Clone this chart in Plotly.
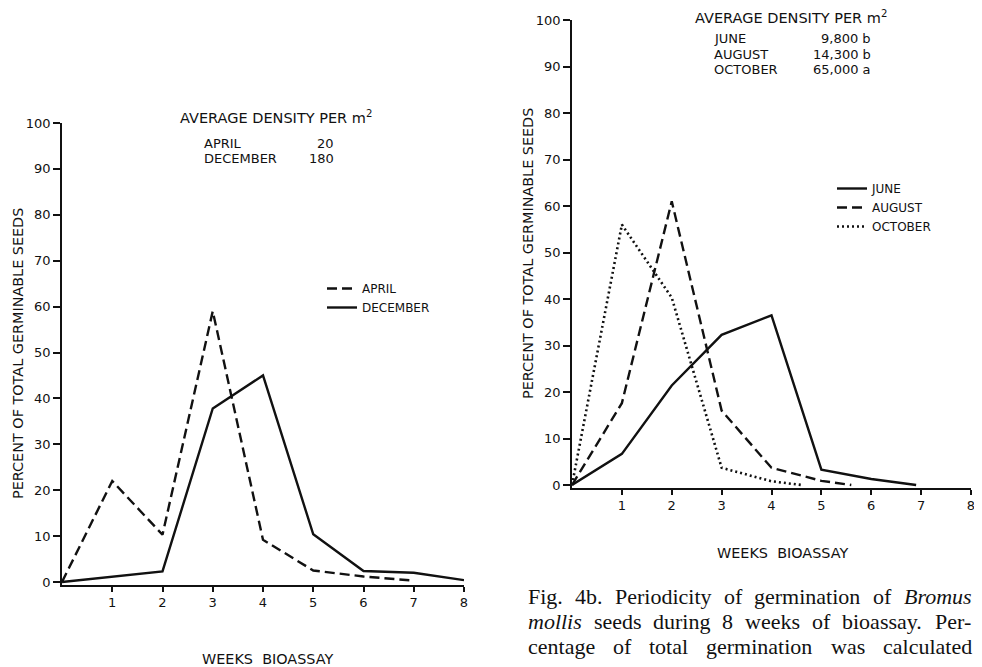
import plotly.graph_objects as go

# ---------------- data ----------------
weeks_april = [0, 1, 2, 3, 4, 5, 6, 7]
april = [0, 22, 10.3, 59, 9.2, 2.5, 1.2, 0.3]
weeks_december = [0, 1, 2, 3, 4, 5, 6, 7, 8]
december = [0, 1.2, 2.3, 37.8, 45, 10.4, 2.4, 2.0, 0.4]

weeks_june = [0, 1, 2, 3, 4, 5, 6, 6.9]
june = [0, 6.7, 21.4, 32.3, 36.5, 3.3, 1.3, 0]
weeks_august = [0, 1, 2, 3, 4, 5, 5.6]
august = [0, 17.6, 61, 16, 3.7, 0.9, 0]
weeks_october = [0, 1, 2, 3, 4, 4.6]
october = [0, 56, 40.3, 3.7, 0.8, 0]

x_ticks = [1, 2, 3, 4, 5, 6, 7, 8]
y_ticks = [0, 10, 20, 30, 40, 50, 60, 70, 80, 90, 100]
y_tick_text = ["0", "10", "20", "30", "40", "50", "60", "70", "80", "90", "100"]

left_density_names = ["APRIL", "DECEMBER"]
left_density_values = ["20", "180"]
right_density_names = ["JUNE", "AUGUST", "OCTOBER"]
right_density_values = ["9,800 b", "14,300 b", "65,000 a"]

caption_lines = [
    ["Fig.", "4b.", "Periodicity", "of", "germination", "of", "<i>Bromus</i>"],
    ["<i>mollis</i>", "seeds", "during", "8", "weeks", "of", "bioassay.", "Per-"],
    ["centage", "of", "total", "germination", "was", "calculated"],
]

# ---------------- layout helpers ----------------
# the page body adds an 8px margin, so the figure is drawn from (8, 8)
OFF = 8
W, H = 982 - OFF, 667 - OFF
def fx(p):
    return (p - OFF) / W
def fy(p):
    return 1 - (p - OFF) / H

FONT = "DejaVu Sans"
BLACK = "#111111"
YMIN = -0.6

fig = go.Figure()

line_solid = dict(color=BLACK, width=2.4)
line_dash = dict(color=BLACK, width=2.4, dash="10px,5px")
line_dot = dict(color=BLACK, width=2.6, dash="2px,3px")

fig.add_trace(go.Scatter(x=weeks_april, y=april, mode="lines", name="APRIL",
                         line=line_dash, xaxis="x", yaxis="y", legend="legend"))
fig.add_trace(go.Scatter(x=weeks_december, y=december, mode="lines", name="DECEMBER",
                         line=line_solid, xaxis="x", yaxis="y", legend="legend"))
fig.add_trace(go.Scatter(x=weeks_june, y=june, mode="lines", name="JUNE",
                         line=line_solid, xaxis="x2", yaxis="y2", legend="legend2"))
fig.add_trace(go.Scatter(x=weeks_august, y=august, mode="lines", name="AUGUST",
                         line=line_dash, xaxis="x2", yaxis="y2", legend="legend2"))
fig.add_trace(go.Scatter(x=weeks_october, y=october, mode="lines", name="OCTOBER",
                         line=line_dot, xaxis="x2", yaxis="y2", legend="legend2"))

tickfont = dict(family=FONT, size=13, color=BLACK)

def xaxis(domain, anchor):
    return dict(domain=domain, anchor=anchor, range=[0, 8], tickvals=x_ticks,
                ticks="outside", ticklen=5, tickwidth=1.5, tickcolor=BLACK,
                showline=True, linecolor=BLACK, linewidth=1.5, showgrid=False,
                zeroline=False, tickfont=tickfont, fixedrange=True, automargin=False)

def yaxis(domain, anchor):
    return dict(domain=domain, anchor=anchor, range=[YMIN, 100], tickvals=y_ticks,
                ticktext=y_tick_text, ticks="outside", ticklen=7, tickwidth=1.5,
                tickcolor=BLACK, showline=True, linecolor=BLACK, linewidth=1.5,
                showgrid=False, zeroline=False, tickfont=tickfont, fixedrange=True,
                automargin=False)

def yinner(over, anchor):
    return dict(overlaying=over, anchor=anchor, range=[YMIN, 100], tickvals=y_ticks,
                ticks="inside", ticklen=5, tickwidth=1.5, tickcolor=BLACK,
                showticklabels=False, showline=False, showgrid=False, zeroline=False,
                fixedrange=True, automargin=False)

l_scale = (582 - 123) / 100
r_scale = (485 - 20) / 100

fig.update_layout(
    width=W, height=H,
    margin=dict(l=0, r=0, t=0, b=0, autoexpand=False),
    paper_bgcolor="white", plot_bgcolor="white",
    showlegend=True,
    xaxis=xaxis([fx(62), fx(464)], "y"),
    yaxis=yaxis([fy(582 - YMIN * l_scale), fy(123)], "x"),
    xaxis2=xaxis([fx(572), fx(971)], "y2"),
    yaxis2=yaxis([fy(485 - YMIN * r_scale), fy(20)], "x2"),
    yaxis3=yinner("y", "x"),
    yaxis4=yinner("y2", "x2"),
    legend=dict(x=fx(322), y=fy(274), xanchor="left", yanchor="top",
                font=dict(family=FONT, size=12, color=BLACK),
                bgcolor="rgba(0,0,0,0)", itemwidth=30, tracegroupgap=0),
    legend2=dict(x=fx(832), y=fy(174), xanchor="left", yanchor="top",
                 font=dict(family=FONT, size=12, color=BLACK),
                 bgcolor="rgba(0,0,0,0)", itemwidth=30, tracegroupgap=0),
)

ann = []
def text(x, y, s, size=13, xanchor="center", angle=0, family=FONT):
    ann.append(dict(x=fx(x), y=fy(y), xref="paper", yref="paper", text=s,
                    showarrow=False, xanchor=xanchor, yanchor="middle",
                    textangle=angle, font=dict(family=family, size=size, color=BLACK)))

# axis titles
text(18, 354, "PERCENT OF TOTAL GERMINABLE SEEDS", size=14.4, angle=-90)
text(528, 254, "PERCENT OF TOTAL GERMINABLE SEEDS", size=14.4, angle=-90)
text(267, 659, "WEEKS\u00a0\u00a0BIOASSAY", size=14.4)
text(782, 553, "WEEKS\u00a0\u00a0BIOASSAY", size=14.4)

# density tables
text(276, 117, "AVERAGE DENSITY PER m<sup>2</sup>", size=14.5)
for i, (n, v) in enumerate(zip(left_density_names, left_density_values)):
    text(202, 143 + 15.5 * i, n, size=13, xanchor="left")
    text(336, 143 + 15.5 * i, v, size=13, xanchor="right")

text(791, 17, "AVERAGE DENSITY PER m<sup>2</sup>", size=14.5)
for i, (n, v) in enumerate(zip(right_density_names, right_density_values)):
    text(712, 39 + 15 * i, n, size=13, xanchor="left")
    text(873, 39 + 15 * i, v, size=13, xanchor="right")

# caption, justified word by word using Times-compatible advance widths
SERIF = "Liberation Serif"
CAP_SIZE = 22
ROMAN = {"F": 556, "i": 278, "g": 500, ".": 250, "4": 500, "b": 500, "P": 556,
         "e": 444, "r": 333, "o": 500, "d": 500, "c": 444, "t": 278, "y": 500,
         "f": 333, "m": 778, "n": 500, "a": 444, "u": 500, "s": 389, "l": 278,
         "w": 722, "8": 500, "k": 500, "-": 333, "h": 500}
ITALIC = {"B": 611, "r": 389, "o": 500, "m": 722, "u": 500, "s": 389, "l": 278,
          "i": 278}

def word_width(w):
    if w.startswith("<i>"):
        core = w[3:-4]
        return sum(ITALIC.get(ch, 500) for ch in core) * CAP_SIZE / 1000
    return sum(ROMAN.get(ch, 500) for ch in w) * CAP_SIZE / 1000

CAP_L, CAP_R = 526, 970
for li, words in enumerate(caption_lines):
    widths = [word_width(w) for w in words]
    gap = (CAP_R - CAP_L - sum(widths)) / (len(words) - 1)
    xpos = CAP_L
    for w, wd in zip(words, widths):
        text(xpos, 596 + 25 * li, w, size=CAP_SIZE, xanchor="left", family=SERIF)
        xpos += wd + gap

fig.update_layout(annotations=ann)
fig.write_html("out.html")
